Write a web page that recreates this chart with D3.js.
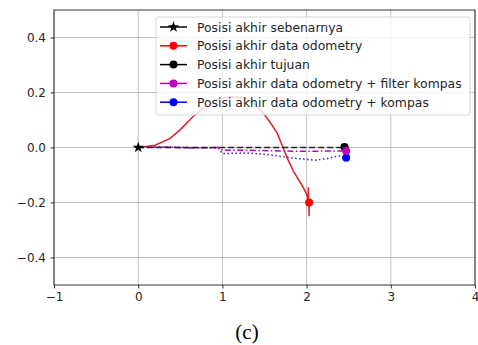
<!DOCTYPE html>
<html>
<head>
<meta charset="utf-8">
<script src="https://cdn.jsdelivr.net/npm/d3@7"></script>
<style>
  body { margin: 0; background: #fff; }
  svg { display: block; }
</style>
</head>
<body>
<svg id="canvas" width="478" height="345"></svg>
<script>
// data (x in m, y in m)
let actualPath = [[0, 0], [2.5, 0]]
let odometryPath = [[0, 0], [0.2, 0.008], [0.38, 0.033], [0.5, 0.065], [0.65, 0.112], [0.8, 0.15],
  [0.95, 0.175], [1.1, 0.185], [1.25, 0.18], [1.38, 0.16], [1.48, 0.127], [1.57, 0.09],
  [1.65, 0.052], [1.72, 0], [1.78, -0.045], [1.84, -0.084], [1.91, -0.12], [1.96, -0.145],
  [2.0, -0.17], [2.02, -0.19], [2.02, -0.145], [2.03, -0.25], [2.03, -0.2]]
let targetPoint = [2.45, 0.002]
let filterPath = [[0, 0], [0.3, 0.002], [0.6, -0.002], [0.95, 0], [1.0, -0.01], [1.3, -0.01],
  [1.6, -0.012], [1.9, -0.014], [2.2, -0.013], [2.47, -0.013]]
let kompasPath = [[0, 0], [0.3, 0.002], [0.6, 0], [0.95, -0.002], [1.0, -0.022], [1.3, -0.02],
  [1.55, -0.026], [1.75, -0.035], [1.95, -0.042], [2.1, -0.046], [2.25, -0.04], [2.38, -0.03], [2.47, -0.037]]

let legendLabels = ['Posisi akhir sebenarnya', 'Posisi akhir data odometry', 'Posisi akhir tujuan',
  'Posisi akhir data odometry + filter kompas', 'Posisi akhir data odometry + kompas']
let legendColors = ['#000', '#ff0000', '#000', '#bf00bf', '#0000ff']
let legendMarkers = ['star', 'circle', 'circle', 'circle', 'circle']

let xTicks = [-1, 0, 1, 2, 3, 4]
let yTicks = [-0.4, -0.2, 0.0, 0.2, 0.4]

let canvas = d3.select('#canvas')
let plotLeft = 54, plotRight = 475, plotTop = 10, plotBottom = 285

let xScale = d3.scaleLinear().domain([-1, 4]).range([plotLeft, plotRight])
let yScale = d3.scaleLinear().domain([-0.5, 0.5]).range([plotBottom, plotTop])

// grid
canvas.append('g').selectAll('line').data(xTicks).enter().append('line')
  .attr('x1', d => xScale(d)).attr('x2', d => xScale(d))
  .attr('y1', plotTop).attr('y2', plotBottom)
  .attr('stroke', '#b0b0b0').attr('stroke-width', 0.8)
canvas.append('g').selectAll('line').data(yTicks).enter().append('line')
  .attr('y1', d => yScale(d)).attr('y2', d => yScale(d))
  .attr('x1', plotLeft).attr('x2', plotRight)
  .attr('stroke', '#b0b0b0').attr('stroke-width', 0.8)

// axes
let xAxis = d3.axisBottom(xScale).tickValues(xTicks).tickSize(3.5).tickPadding(3.5)
  .tickFormat(d => d3.format('d')(d).replace('-', '\u2212'))
let yAxis = d3.axisLeft(yScale).tickValues(yTicks).tickSize(3.5).tickPadding(4.5)
  .tickFormat(d => d3.format('.1f')(d).replace('-', '\u2212'))

let gx = canvas.append('g').attr('transform', 'translate(0,' + plotBottom + ')').call(xAxis)
let gy = canvas.append('g').attr('transform', 'translate(' + plotLeft + ',0)').call(yAxis)
;[gx, gy].forEach(g => {
  g.select('.domain').remove()
  g.selectAll('line').attr('stroke', '#000').attr('stroke-width', 0.8)
  g.selectAll('text').style('font-family', '"DejaVu Sans", sans-serif').style('font-size', '12px').attr('fill', '#262626')
})

// frame
canvas.append('rect')
  .attr('x', plotLeft).attr('y', plotTop).attr('width', plotRight - plotLeft).attr('height', plotBottom - plotTop)
  .attr('fill', 'none').attr('stroke', '#000').attr('stroke-width', 0.8)

let line = d3.line().x(d => xScale(d[0])).y(d => yScale(d[1]))
let star = d3.symbol().type(d3.symbolStar).size(40)

let plot = canvas.append('g')

plot.append('path').datum(odometryPath).attr('d', line)
  .attr('fill', 'none').attr('stroke', '#e0202a').attr('stroke-width', 1.5)
plot.append('path').datum(kompasPath).attr('d', line)
  .attr('fill', 'none').attr('stroke', '#3a1fb0').attr('stroke-width', 1.5)
  .attr('stroke-dasharray', '1.5,2.5')
plot.append('path').datum(filterPath).attr('d', line)
  .attr('fill', 'none').attr('stroke', '#bf00bf').attr('stroke-width', 1.5)
  .attr('stroke-dasharray', '6,2.5,1.5,2.5')
plot.append('path').datum(actualPath).attr('d', line)
  .attr('fill', 'none').attr('stroke', '#222').attr('stroke-width', 1.6)
  .attr('stroke-dasharray', '6,3')

// end markers
let lastOdo = odometryPath[odometryPath.length - 1]
let lastFilter = filterPath[filterPath.length - 1]
let lastKompas = kompasPath[kompasPath.length - 1]
plot.append('circle').attr('cx', xScale(lastOdo[0])).attr('cy', yScale(lastOdo[1])).attr('r', 4).attr('fill', '#ff0000')
plot.append('circle').attr('cx', xScale(targetPoint[0])).attr('cy', yScale(targetPoint[1])).attr('r', 4).attr('fill', '#000')
plot.append('circle').attr('cx', xScale(lastKompas[0])).attr('cy', yScale(lastKompas[1])).attr('r', 4).attr('fill', '#0000ff')
plot.append('circle').attr('cx', xScale(lastFilter[0])).attr('cy', yScale(lastFilter[1])).attr('r', 4).attr('fill', '#bf00bf')
plot.append('path').attr('d', star)
  .attr('transform', 'translate(' + xScale(actualPath[0][0]) + ',' + yScale(actualPath[0][1]) + ')')
  .attr('fill', '#000')

// legend
let legend = canvas.append('g').attr('transform', 'translate(156,17)')
legend.append('rect').attr('width', 314).attr('height', 98).attr('rx', 2)
  .attr('fill', 'rgba(255,255,255,0.8)').attr('stroke', '#cccccc').attr('stroke-width', 0.8)
let entry = legend.selectAll('g.entry').data(legendLabels).enter().append('g')
  .attr('class', 'entry')
  .attr('transform', (d, i) => 'translate(0,' + (10 + i * 18.8) + ')')
entry.append('line').attr('x1', 4).attr('x2', 31).attr('y1', 0).attr('y2', 0)
  .attr('stroke', (d, i) => legendColors[i]).attr('stroke-width', 1.5)
entry.each(function (d, i) {
  let g = d3.select(this)
  if (legendMarkers[i] === 'star') {
    g.append('path').attr('d', star).attr('transform', 'translate(17.5,0)').attr('fill', legendColors[i])
  } else {
    g.append('circle').attr('cx', 17.5).attr('cy', 0).attr('r', 4).attr('fill', legendColors[i])
  }
})
entry.append('text').attr('x', 41).attr('y', 4.5)
  .style('font-family', '"DejaVu Sans", sans-serif').style('font-size', '12.4px').attr('fill', '#262626')
  .text(d => d)

// caption
canvas.append('text').attr('x', 247).attr('y', 339).attr('text-anchor', 'middle')
  .style('font-family', '"Liberation Serif", "DejaVu Serif", serif').style('font-size', '21px').attr('fill', '#000')
  .text('(c)')
</script>
</body>
</html>
